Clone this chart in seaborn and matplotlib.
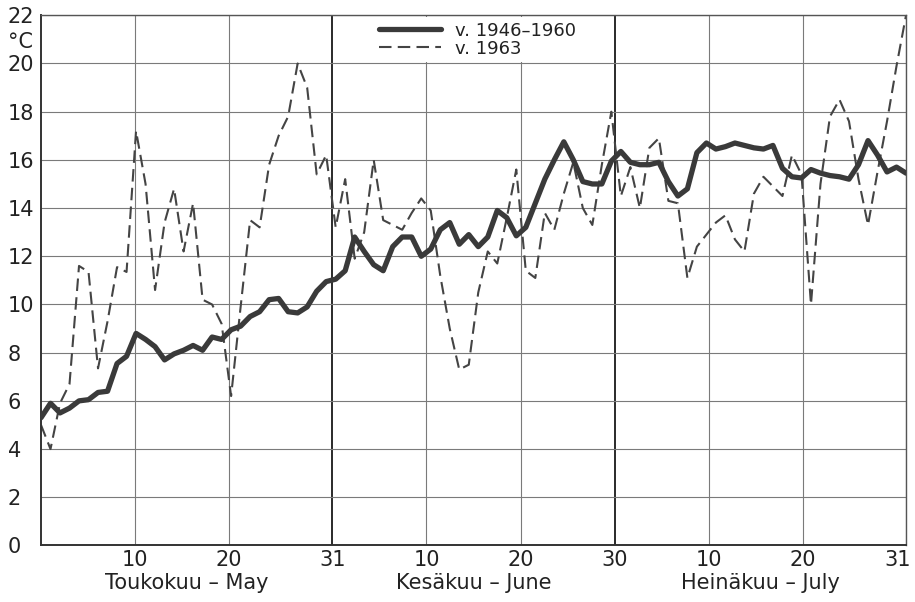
import numpy as np
import pandas as pd
import seaborn as sns
import matplotlib.pyplot as plt
import matplotlib.transforms as mtransforms

# daily mean temperature, 1 May - 31 July
mean_1946_1960 = [5.3, 5.9, 5.5, 5.7, 6.0, 6.05, 6.35, 6.4, 7.55, 7.85,
                  8.8, 8.55, 8.25, 7.7, 7.95, 8.1, 8.3, 8.1, 8.65, 8.55,
                  8.95, 9.1, 9.5, 9.7, 10.2, 10.25, 9.7, 9.65, 9.9, 10.55,
                  10.95, 11.05, 11.4, 12.8, 12.2, 11.65, 11.4, 12.4, 12.8, 12.8,
                  12.0, 12.3, 13.1, 13.4, 12.5, 12.9, 12.4, 12.8, 13.9, 13.6,
                  12.85, 13.2, 14.2, 15.2, 16.0, 16.75, 16.0, 15.1, 15.0, 15.0,
                  15.95, 16.35, 15.9, 15.8, 15.8, 15.9, 15.1, 14.5, 14.8, 16.3,
                  16.7, 16.45, 16.55, 16.7, 16.6, 16.5, 16.45, 16.6, 15.65, 15.3,
                  15.25, 15.6, 15.45, 15.35, 15.3, 15.2, 15.8, 16.8, 16.2, 15.5,
                  15.7, 15.45]
year_1963 = [5.0, 4.0, 5.9, 6.7, 11.6, 11.35, 7.35, 9.3, 11.55, 11.35,
             17.2, 15.0, 10.6, 13.4, 14.8, 12.2, 14.2, 10.2, 10.0, 9.2,
             6.2, 9.9, 13.5, 13.2, 15.8, 17.0, 17.8, 20.0, 19.0, 15.4,
             16.2, 13.2, 15.2, 11.9, 13.0, 16.0, 13.5, 13.3, 13.1, 13.8,
             14.4, 13.9, 11.2, 9.0, 7.3, 7.5, 10.5, 12.2, 11.7, 13.6,
             15.6, 11.4, 11.1, 13.8, 13.1, 14.6, 15.9, 14.0, 13.3, 15.8,
             18.0, 14.5, 15.7, 14.0, 16.5, 16.9, 14.3, 14.2, 11.1, 12.4,
             12.9, 13.4, 13.7, 12.7, 12.2, 14.6, 15.3, 14.9, 14.5, 16.2,
             15.4, 10.0, 15.0, 17.8, 18.5, 17.6, 15.2, 13.3, 15.5, 17.6,
             19.9, 22.0]

day_ticks = [10, 20, 31, 41, 51, 61, 71, 81, 92]
day_labels = ["10", "20", "31", "10", "20", "30", "10", "20", "31"]
month_ends = [31, 61]
month_mid = [15.5, 46, 76.5]
month_names = ["Toukokuu – May", "Kesäkuu – June", "Heinäkuu – July"]

n = len(mean_1946_1960)
day = np.arange(n) * 92 / (n - 1)
df = pd.DataFrame({"day": day, "mean": mean_1946_1960, "y1963": year_1963})

sns.set_style("white")
plt.rcParams['font.family'] = ['DejaVu Sans']

fig, ax = plt.subplots(figsize=(9.15, 6.02), dpi=100)
fig.subplots_adjust(left=0.0448, right=0.9902, top=0.9746, bottom=0.0939)

for t in day_ticks:
    if t in month_ends:
        ax.axvline(t, color="#2a2a2a", lw=1.4, zorder=1)
    else:
        ax.axvline(t, color="#7a7a7a", lw=0.8, zorder=1)
for v in range(2, 23, 2):
    ax.axhline(v, color="#7a7a7a", lw=0.8, zorder=1)

sns.lineplot(data=df, x="day", y="mean", ax=ax, color="#3a3a3a", lw=3.8,
             label="v. 1946–1960", zorder=3)
sns.lineplot(data=df, x="day", y="y1963", ax=ax, color="#444444", lw=1.5,
             linestyle=(0, (6, 3)), label="v. 1963", zorder=2)

ax.set_xlim(0, 92)
ax.set_ylim(0, 22)
ax.set_xticks(day_ticks)
ax.set_xticklabels(day_labels)
ax.set_yticks(range(0, 23, 2))
ax.set_yticklabels([str(v) for v in range(0, 23, 2)], ha="left")
ax.tick_params(axis="y", length=0, pad=24, labelsize=15, colors="#222222")
ax.tick_params(axis="x", length=0, pad=3, labelsize=15, colors="#222222")
ax.set_xlabel("")
ax.set_ylabel("")

# keep the last "31" inside the picture
last = ax.get_xticklabels()[-1]
last.set_transform(last.get_transform() +
                   mtransforms.ScaledTranslation(-6 / 72, 0, fig.dpi_scale_trans))

for side in ["left", "bottom"]:
    ax.spines[side].set_color("#333333")
    ax.spines[side].set_linewidth(1.4)
for side in ["top", "right"]:
    ax.spines[side].set_color("#555555")
    ax.spines[side].set_linewidth(1.0)

trans = mtransforms.blended_transform_factory(ax.transData, ax.transAxes)
for m, name in zip(month_mid, month_names):
    ax.text(m, -0.071, name, transform=trans, ha="center", va="center",
            fontsize=15, color="#222222")

ytrans = mtransforms.blended_transform_factory(ax.transAxes, ax.transData)
ax.text(-0.038, 20.9, "°C", transform=ytrans, ha="left", va="center",
        fontsize=15, color="#222222")

leg = ax.legend(loc="upper center", bbox_to_anchor=(0.505, 1.0), fontsize=13,
                handlelength=3.4, labelspacing=0.0, borderaxespad=0.1,
                borderpad=0.25, frameon=True, facecolor="white",
                edgecolor="none", framealpha=1)
for txt in leg.get_texts():
    txt.set_color("#222222")

fig.savefig("out.png", dpi=100)
